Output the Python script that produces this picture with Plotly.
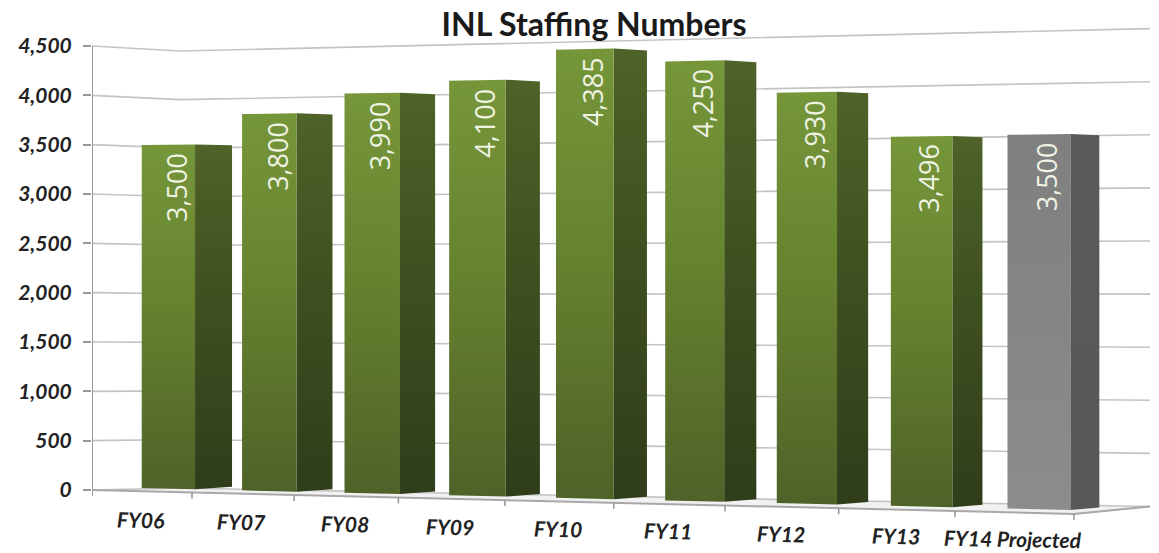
import plotly.graph_objects as go

# ---- data ----
categories = ["FY06", "FY07", "FY08", "FY09", "FY10", "FY11", "FY12", "FY13", "FY14 Projected"]
staffing = [3500, 3800, 3990, 4100, 4385, 4250, 3930, 3496, 3500]
projected = [False, False, False, False, False, False, False, False, True]
y_ticks = [0, 500, 1000, 1500, 2000, 2500, 3000, 3500, 4000, 4500]
title_text = "INL Staffing Numbers"

W, H = 1159, 553
AX_X = 92            # pixel x of the value axis
AX_PX0, AX_SCALE = 490.0, 444.0 / 4500.0   # value axis: pixel of 0, pixels per unit


# ---- the perspective of the original 3D chart ----
def to_axis(py):
    """pixel row -> value on the (left) value axis"""
    return (AX_PX0 - py) / AX_SCALE


def px_x(t):
    """slot position along the category axis -> pixel column"""
    return AX_X + 98.97 * t / (1 - 0.01032 * t)


def bar_floor(x):
    return 488 + (x - 142) * 22.0 / 929.0


def bar_scale(x):
    return 0.098 + (x - 142) * 0.0094 / 929.0


def bar_py(x, v):
    return bar_floor(x) - bar_scale(x) * v


def wall_py(x, v):
    """back wall"""
    f = (x - 180) / 970.0
    return 488 + 18.5 * f - (0.0971 + 0.0091 * f) * v


def front_py(x):
    return AX_PX0 + (x - AX_X) * 0.0244


fig = go.Figure()


def poly(xs, pys, stops=None, color=None):
    tr = dict(x=xs + xs[:1], y=[to_axis(p) for p in pys + pys[:1]], mode="lines",
              line=dict(width=0), fill="toself", hoverinfo="skip", showlegend=False)
    if stops:
        tr["fillgradient"] = dict(type="vertical", colorscale=stops)
    else:
        tr["fillcolor"] = color
    fig.add_trace(go.Scatter(**tr))


def line(xs, pys, color, width):
    fig.add_trace(go.Scatter(x=xs, y=[None if p is None else to_axis(p) for p in pys], mode="lines",
                             line=dict(color=color, width=width), hoverinfo="skip", showlegend=False))


# floor
BACK_X, RIGHT_X = 180, 1150
END_X = px_x(len(categories))
poly([AX_X, BACK_X, RIGHT_X, END_X],
     [AX_PX0, wall_py(BACK_X, 0), wall_py(RIGHT_X, 0), front_py(END_X)], color="#f1f1f1")

# gridlines on side wall and back wall
for v in y_ticks:
    line([AX_X, BACK_X, RIGHT_X], [AX_PX0 - AX_SCALE * v, wall_py(BACK_X, v), wall_py(RIGHT_X, v)], "#c4c4c4", 1.6)

# value axis, category axis and its ticks
line([AX_X, AX_X], [AX_PX0 - AX_SCALE * y_ticks[-1], AX_PX0 + 5], "#9a9a9a", 2)
line([AX_X, END_X, RIGHT_X], [AX_PX0, front_py(END_X), wall_py(RIGHT_X, 0)], "#a8a8a8", 2)
tx, ty = [], []
for i in range(len(categories) + 1):
    x = px_x(i)
    tx += [x, x, None]
    ty += [front_py(x), front_py(x) + 6, None]
line(tx, ty, "#9a9a9a", 1.6)

GREEN_FRONT = [[0, "#4f6228"], [0.55, "#66832f"], [1, "#76963a"]]
GREEN_SIDE = [[0, "#2f3d1a"], [0.55, "#3f5020"], [1, "#4f6228"]]
GREY_FRONT = [[0, "#8c8c8c"], [1, "#7f7f7f"]]
GREY_SIDE = [[0, "#585858"], [1, "#5a5a5a"]]

for i, (cat, v, proj) in enumerate(zip(categories, staffing, projected)):
    xl = px_x(i + 0.5 - 0.007 * i)
    xr = px_x(i + 1.03 - 0.0075 * i)
    xb = xr + 37 - (xr - 195) * 8.0 / 876.0
    poly([xr, xb, xb, xr],
         [bar_py(xr, v), bar_floor(xr) - 2.5 - 0.99 * bar_scale(xr) * v, bar_floor(xr) - 2.5, bar_floor(xr)],
         stops=GREY_SIDE if proj else GREEN_SIDE)
    poly([xl, xr, xr, xl], [bar_py(xl, v), bar_py(xr, v), bar_floor(xr), bar_floor(xl)],
         stops=GREY_FRONT if proj else GREEN_FRONT)
    fig.add_annotation(x=(xl + xr) / 2 + 7.5, y=to_axis(bar_py(xl, v) + 42), xref="x", yref="y",
                       text=f"{v:,}", textangle=-90, showarrow=False, xanchor="center", yanchor="middle",
                       font=dict(family="Open Sans", size=27, color="#eef3e4"))
    xc = px_x(i + 0.5) - 1
    fig.add_annotation(x=xc, y=to_axis(front_py(xc) + 28.5 - 0.35 * i), xref="x", yref="y",
                       text=f"<b><i>{cat}</i></b>", textangle=1.0, showarrow=False,
                       xanchor="center", yanchor="middle",
                       font=dict(family="Lato", size=21, color="#222222"))

fig.update_layout(
    width=W, height=H, margin=dict(l=AX_X, r=0, t=0, b=0, autoexpand=False),
    paper_bgcolor="white", plot_bgcolor="white", showlegend=False,
    title=dict(text=f"<b>{title_text}</b>", x=594 / W, xanchor="center", y=1 - 25 / H, yanchor="middle",
               font=dict(family="Lato", size=32, color="#1a1a1a")),
    xaxis=dict(visible=False, range=[AX_X, W], fixedrange=True),
    yaxis=dict(range=[to_axis(H), to_axis(0)], tickvals=y_ticks, tickformat=",d",
               showgrid=False, zeroline=False, showline=False, ticks="outside", ticklen=8, tickwidth=1.6,
               tickcolor="#9a9a9a", ticklabelstandoff=7,
               tickfont=dict(family="Lato", size=21, color="#222222", weight="bold", style="italic")),
)
fig.write_html("out.html", post_script="document.body.style.margin='0';", config=dict(displayModeBar=False))
